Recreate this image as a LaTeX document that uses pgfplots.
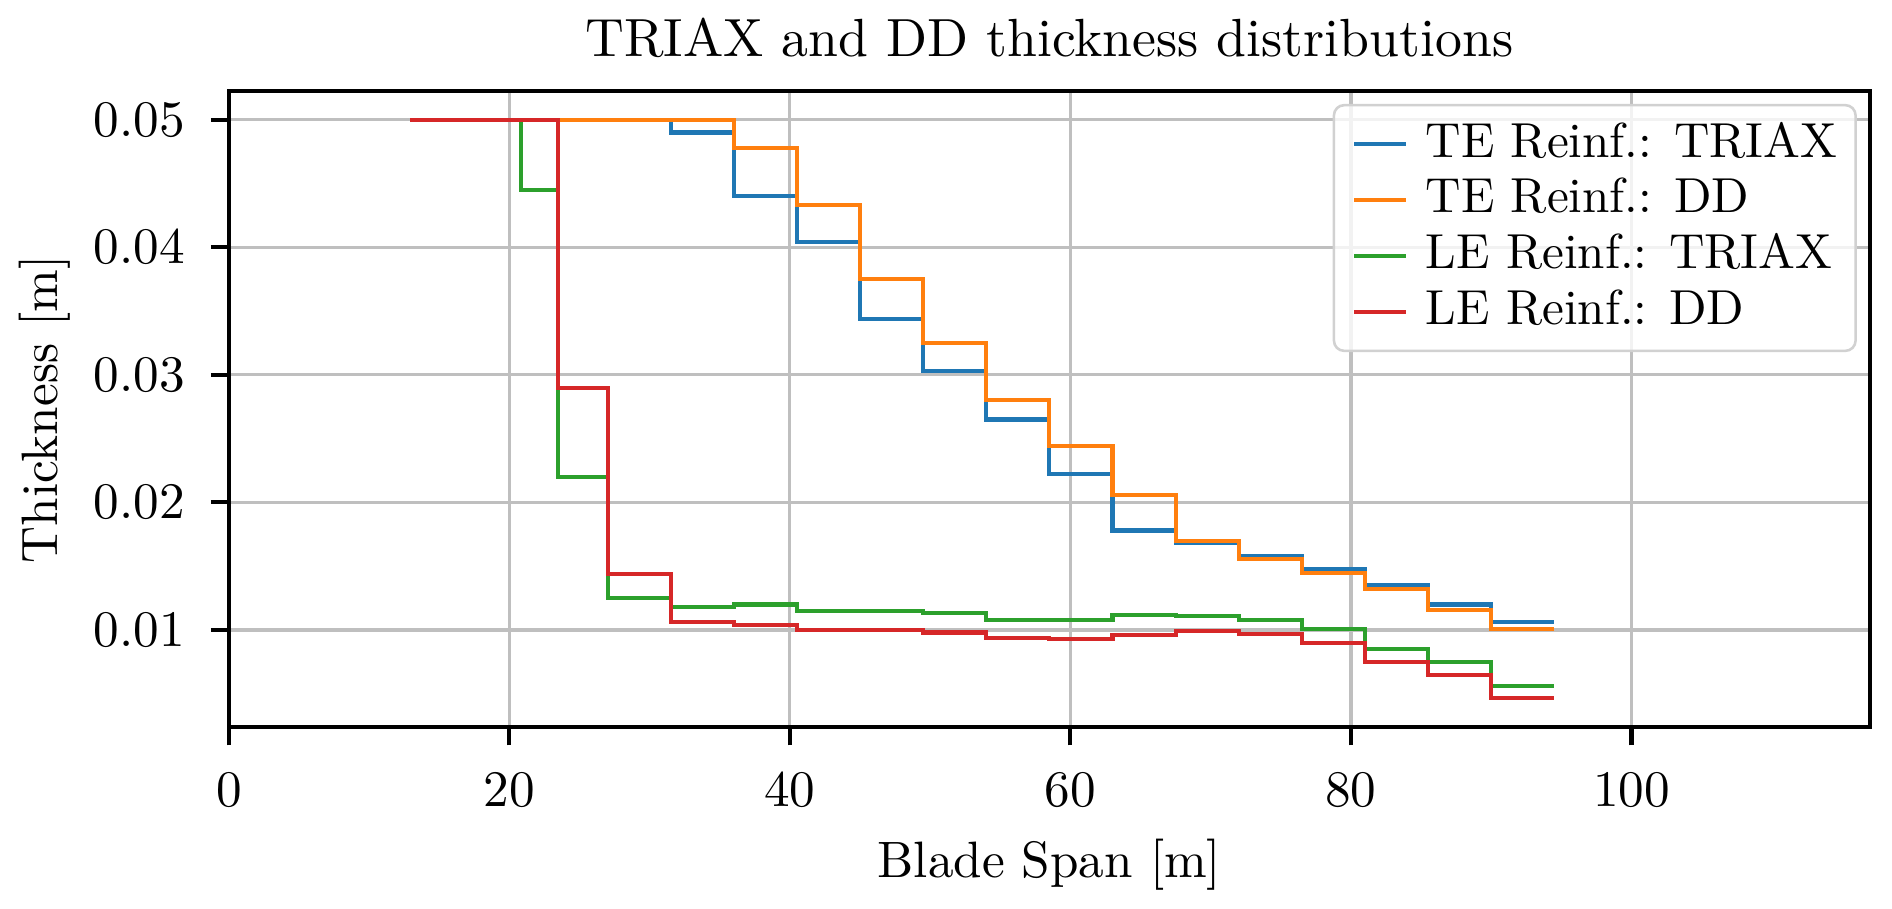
\documentclass[border=0pt]{standalone}
\usepackage{pgfplots}
\pgfplotsset{compat=1.18}
\definecolor{tabblue}{HTML}{1F77B4}
\definecolor{taborange}{HTML}{FF7F0E}
\definecolor{tabgreen}{HTML}{2CA02C}
\definecolor{tabred}{HTML}{D62728}
\begin{document}
\begin{tikzpicture}
\begin{axis}[
  at={(0,0)}, anchor=south west,
  scale only axis,
  width=320.6pt, height=124.3pt,
  xmin=0, xmax=117,
  ymin=0.00236, ymax=0.05224,
  xtick={0,20,40,60,80,100},
  ytick={0.01,0.02,0.03,0.04,0.05},
  scaled y ticks=false,
  yticklabel style={/pgf/number format/fixed, /pgf/number format/precision=2, /pgf/number format/fixed zerofill},
  xtick pos=bottom, ytick pos=left,
  tick align=outside,
  major tick length=3.5pt,
  every tick/.style={black, line width=0.8pt},
  axis line style={line width=0.8pt},
  grid=major,
  major grid style={color=black!25, line width=0.6pt},
  xticklabel style={anchor=base, inner sep=0pt, yshift=-12pt},
  yticklabel style={anchor=east, inner sep=0pt, xshift=-4.9pt},
  title={TRIAX and DD thickness distributions},
  title style={at={(0.5,1)}, anchor=base, inner sep=0pt, yshift=0.8pt, font=\fontsize{10.5}{12}\selectfont},
  xlabel={Blade Span [m]},
  xlabel style={at={(axis description cs:0.5,0)}, anchor=base, inner sep=0pt, yshift=-29.3pt},
  ylabel={Thickness [m]},
  ylabel style={at={(axis description cs:-0.1042,0.5)}, anchor=base, rotate=0, inner sep=0pt},
  legend style={at={(axis description cs:0.992,0.98)}, anchor=north east,
    draw=black!18, line width=0.5pt, rounded corners=2pt,
    fill=white, fill opacity=0.8, text opacity=1,
    font=\fontsize{9.6}{12}\selectfont,
    inner xsep=3.6pt, inner ysep=2.2pt, column sep=3.5pt, row sep=0pt,
    nodes={inner xsep=0pt, inner ysep=0.75pt, text height=7.2pt, text depth=2.2pt}},
  legend cell align=left,
  legend image code/.code={\draw[#1, line width=0.8pt] (0pt,0pt) -- (10pt,0pt);},
  every axis plot/.append style={line width=0.8pt},
]
\addplot[tabblue, const plot] coordinates {
(12.93,0.05) (31.5,0.0490) (36,0.0440) (40.5,0.0404) (45,0.0344) (49.5,0.0303)
(54,0.0265) (58.5,0.0222) (63,0.0178) (67.5,0.0168) (72,0.0158) (76.5,0.0148)
(81,0.0135) (85.5,0.0120) (90,0.0106) (94.5,0.0106)};
\addlegendentry{TE Reinf.: TRIAX}
\addplot[taborange, const plot] coordinates {
(12.93,0.05) (36,0.0478) (40.5,0.0433) (45,0.0375) (49.5,0.0325) (54,0.0280)
(58.5,0.0244) (63,0.0206) (67.5,0.0170) (72,0.01554) (76.5,0.0145) (81,0.0132)
(85.5,0.0116) (90,0.0101) (94.5,0.0101)};
\addlegendentry{TE Reinf.: DD}
\addplot[tabgreen, const plot] coordinates {
(12.93,0.05) (20.8,0.04448) (23.48,0.0220) (27,0.01253) (31.5,0.0118) (36,0.0120)
(40.5,0.0115) (45,0.01147) (49.5,0.0113) (54,0.0108) (58.5,0.0108) (63,0.01115)
(67.5,0.0111) (72,0.01076) (76.5,0.0101) (81,0.0085) (85.5,0.0075) (90,0.0056)
(94.5,0.0056)};
\addlegendentry{LE Reinf.: TRIAX}
\addplot[tabred, const plot] coordinates {
(12.93,0.05) (23.48,0.0290) (27,0.0144) (31.5,0.0106) (36,0.0104) (40.5,0.0100)
(45,0.00998) (49.5,0.0098) (54,0.0094) (58.5,0.0093) (63,0.0096) (67.5,0.0099)
(72,0.0097) (76.5,0.0090) (81,0.0075) (85.5,0.0065) (90,0.00465) (94.5,0.00465)};
\addlegendentry{LE Reinf.: DD}
\end{axis}
\pgfresetboundingbox
\path[use as bounding box] (-44.7pt,-35.3pt) rectangle (324.9pt,142.1pt);
\end{tikzpicture}
\end{document}
